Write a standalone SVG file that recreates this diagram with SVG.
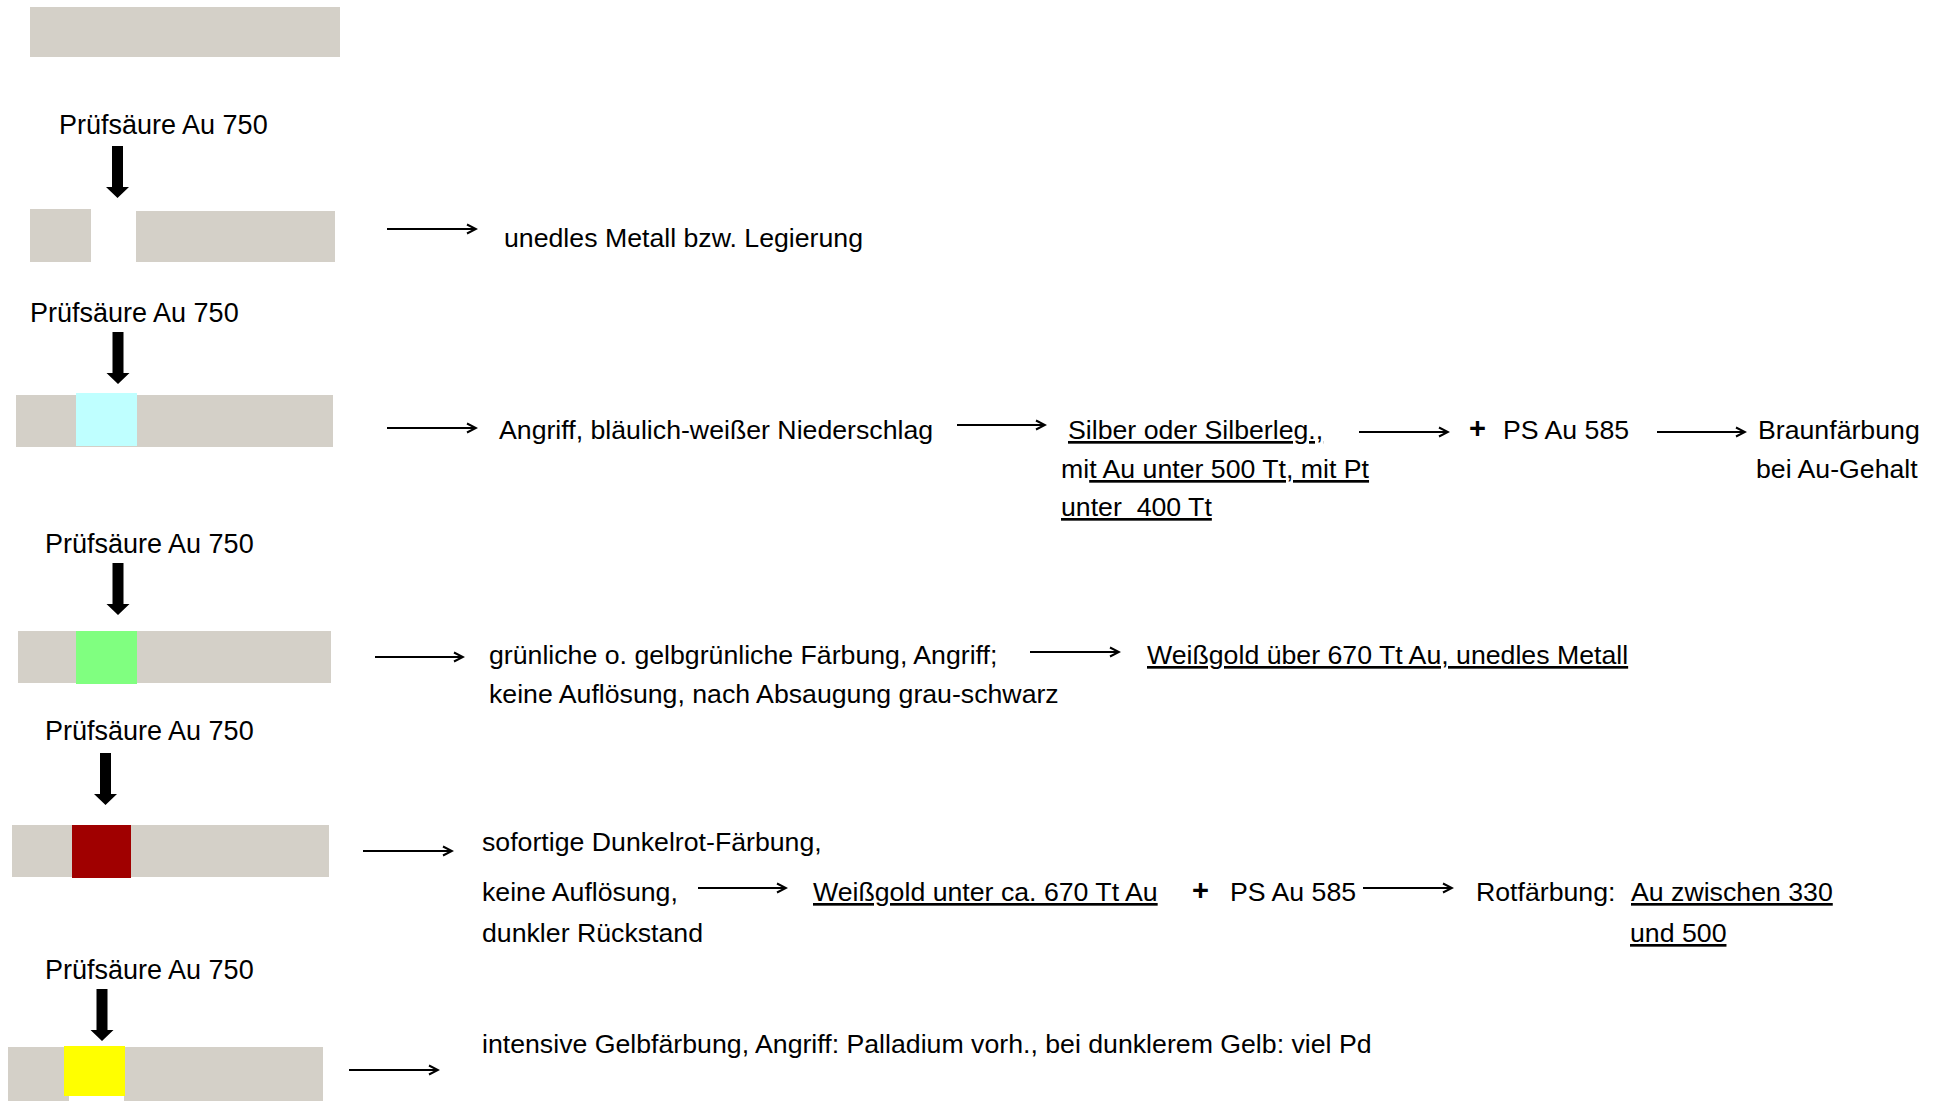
<svg xmlns="http://www.w3.org/2000/svg" width="1943" height="1101" viewBox="0 0 1943 1101">
<style>
text{font-family:"Liberation Sans",Arial,sans-serif;font-size:26.7px;fill:#000}
.lab{font-size:27px}
.u{text-decoration:underline}
.plus{font-size:29px;font-weight:bold}
.bar{fill:#d4d0c8}
.con{stroke:#000;stroke-width:2;fill:none;marker-end:url(#ah)}
</style>
<defs>
<marker id="ah" markerUnits="userSpaceOnUse" markerWidth="12" markerHeight="12" refX="10" refY="6" orient="auto">
<path d="M1,1.5 L10,6 L1,10.5" fill="none" stroke="#000" stroke-width="2"/>
</marker>
<path id="drop" d="M-5.5,0 H5.5 V41 H11.5 L0,52 L-11.5,41 H-5.5 Z"/>
</defs>

<g id="sample0"><rect class="bar" x="30" y="7" width="310" height="50"/></g>

<g id="step1">
<text class="lab" x="59" y="134">Prüfsäure Au 750</text>
<use href="#drop" x="117.5" y="146"/>
<rect class="bar" x="30" y="209" width="61" height="53"/>
<rect class="bar" x="136" y="211" width="199" height="51"/>
</g>
<g id="result1"><text x="504" y="247">unedles Metall bzw. Legierung</text></g>

<g id="step2">
<text class="lab" x="30" y="322">Prüfsäure Au 750</text>
<use href="#drop" x="118" y="332"/>
<rect class="bar" x="16" y="395" width="317" height="52"/>
<rect x="76" y="393" width="61" height="53" fill="#bfffff"/>
</g>
<g id="result2"><text x="499" y="439">Angriff, bläulich-weißer Niederschlag</text></g>
<g id="result2b">
<text x="1068" y="439" class="u">Silber oder Silberleg.,</text>
<text x="1061" y="478">mi<tspan class="u">t Au unter 500 Tt, mit Pt</tspan></text>
<text x="1061" y="516" class="u" xml:space="preserve">unter  400 Tt</text>
</g>
<g id="result2c"><text x="1469" y="438" class="plus">+</text><text x="1503" y="439">PS Au 585</text></g>
<g id="result2d"><text x="1758" y="439">Braunfärbung</text><text x="1756" y="478">bei Au-Gehalt</text></g>

<g id="step3">
<text class="lab" x="45" y="553">Prüfsäure Au 750</text>
<use href="#drop" x="118" y="563"/>
<rect class="bar" x="18" y="631" width="313" height="52"/>
<rect x="76" y="631" width="61" height="53" fill="#80ff80"/>
</g>
<g id="result3">
<text x="489" y="664">grünliche o. gelbgrünliche Färbung, Angriff;</text>
<text x="489" y="703">keine Auflösung, nach Absaugung grau-schwarz</text>
</g>
<g id="result3b"><text x="1147" y="664" class="u">Weißgold über 670 Tt Au, unedles Metall</text></g>

<g id="step4">
<text class="lab" x="45" y="740">Prüfsäure Au 750</text>
<use href="#drop" x="105.5" y="753"/>
<rect class="bar" x="12" y="825" width="317" height="52"/>
<rect x="72" y="825" width="59" height="53" fill="#a00000"/>
</g>
<g id="result4">
<text x="482" y="851">sofortige Dunkelrot-Färbung,</text>
<text x="482" y="901">keine Auflösung,</text>
<text x="482" y="942">dunkler Rückstand</text>
</g>
<g id="result4b"><text x="813" y="901" class="u">Weißgold unter ca. 670 Tt Au</text></g>
<g id="result4c"><text x="1192" y="900" class="plus">+</text><text x="1230" y="901">PS Au 585</text></g>
<g id="result4d">
<text x="1476" y="901">Rotfärbung:</text>
<text x="1631" y="901" class="u">Au zwischen 330</text>
<text x="1630" y="942" class="u">und 500</text>
</g>

<g id="step5">
<text class="lab" x="45" y="979">Prüfsäure Au 750</text>
<use href="#drop" x="102" y="989"/>
<rect class="bar" x="8" y="1047" width="315" height="54"/>
<rect x="64" y="1046" width="61" height="50" fill="#ffff00"/>
<rect x="69" y="1096" width="55" height="5" fill="#fff"/>
</g>
<g id="result5"><text x="482" y="1053">intensive Gelbfärbung, Angriff: Palladium vorh., bei dunklerem Gelb: viel Pd</text></g>

<g id="connectors">
<line class="con" x1="387" y1="229" x2="476" y2="229"/>
<line class="con" x1="387" y1="428" x2="476" y2="428"/>
<line class="con" x1="957" y1="425" x2="1045" y2="425"/>
<line class="con" x1="1359" y1="432" x2="1448" y2="432"/>
<line class="con" x1="1657" y1="432" x2="1745" y2="432"/>
<line class="con" x1="375" y1="657" x2="463" y2="657"/>
<line class="con" x1="1030" y1="652" x2="1119" y2="652"/>
<line class="con" x1="363" y1="851" x2="452" y2="851"/>
<line class="con" x1="698" y1="888" x2="786" y2="888"/>
<line class="con" x1="1363" y1="888" x2="1452" y2="888"/>
<line class="con" x1="349" y1="1070" x2="438" y2="1070"/>
</g>
</svg>
